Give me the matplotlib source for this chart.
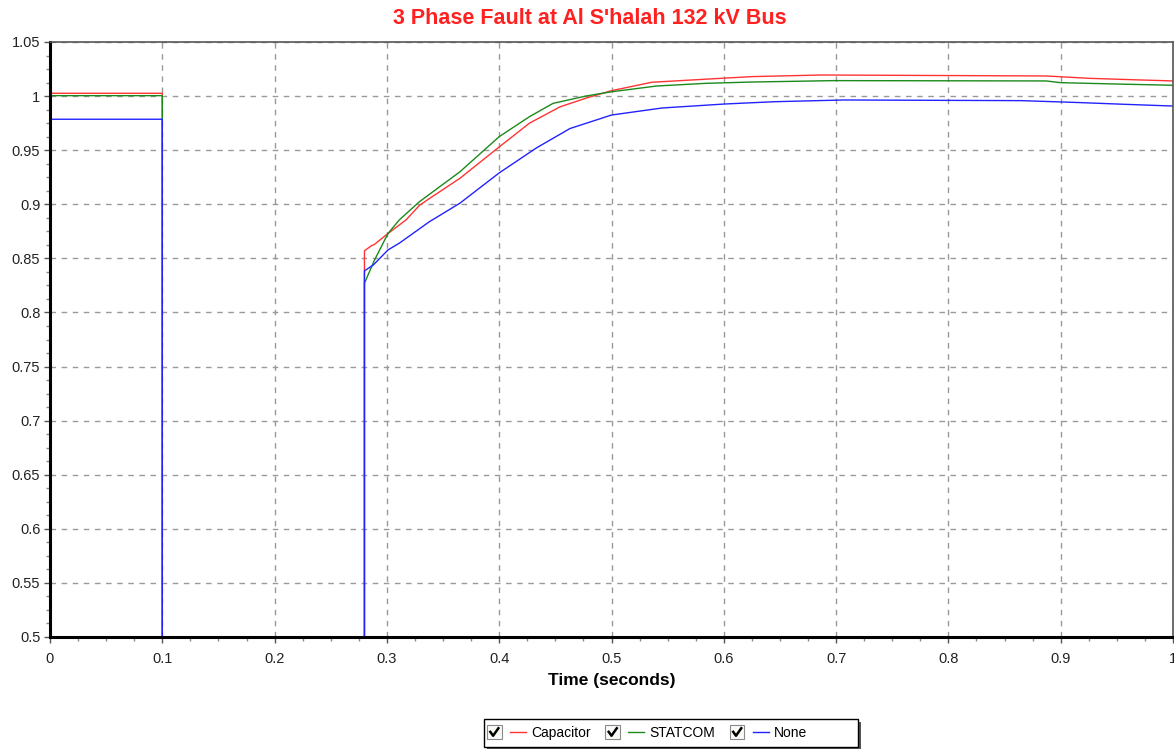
import numpy as np
import matplotlib
matplotlib.use("Agg")
import matplotlib.pyplot as plt
from matplotlib.patches import Rectangle
from matplotlib.lines import Line2D
from matplotlib.legend_handler import HandlerBase
from matplotlib.ticker import MultipleLocator

plt.rcParams['font.family'] = ['Liberation Sans', 'DejaVu Sans']

# --- data (p.u. voltage vs time) ---
# during the fault (0.1 s - 0.28 s) the voltage is off the bottom of the chart
t_cap = [0, 0.1, 0.1, 0.28, 0.28, 0.286, 0.289, 0.301, 0.317, 0.329, 0.336, 0.365,
         0.4, 0.427, 0.454, 0.477, 0.5, 0.536, 0.597, 0.625, 0.687, 0.887, 0.926,
         0.968, 1.0]
v_cap = [1.0026, 1.0026, 0.2, 0.2, 0.857, 0.8615, 0.863, 0.873, 0.8855, 0.899, 0.904,
         0.924, 0.953, 0.975, 0.990, 0.998, 1.005, 1.0128, 1.0164, 1.018, 1.0195,
         1.0186, 1.0164, 1.015, 1.014]

t_stat = [0, 0.1, 0.1, 0.28, 0.28, 0.289, 0.301, 0.311, 0.329, 0.365, 0.4, 0.427,
          0.448, 0.477, 0.5, 0.540, 0.584, 0.625, 0.698, 0.887, 0.90, 0.948, 1.0]
v_stat = [1.0004, 1.0004, 0.2, 0.2, 0.827, 0.8485, 0.873, 0.8855, 0.9024, 0.930,
          0.9625, 0.981, 0.9933, 1.0, 1.004, 1.0093, 1.0118, 1.013, 1.0143, 1.014,
          1.0124, 1.0112, 1.010]

t_none = [0, 0.1, 0.1, 0.28, 0.28, 0.288, 0.301, 0.311, 0.338, 0.365, 0.4, 0.433,
          0.463, 0.5, 0.545, 0.601, 0.645, 0.707, 0.865, 0.917, 0.957, 1.0]
v_none = [0.9786, 0.9786, 0.2, 0.2, 0.8384, 0.844, 0.8578, 0.864, 0.884, 0.901,
          0.929, 0.952, 0.970, 0.9825, 0.989, 0.9927, 0.9948, 0.9964, 0.9958, 0.994,
          0.9924, 0.9908]

labels = ["Capacitor", "STATCOM", "None"]
colors = ["#ff3333", "#1a8a1a", "#2222ff"]

xticks = [0.1 * i for i in range(11)]
xticklabels = ["0", "0.1", "0.2", "0.3", "0.4", "0.5", "0.6", "0.7", "0.8", "0.9", "1"]
yticks = [0.5 + 0.05 * i for i in range(12)]
yticklabels = ["0.5", "0.55", "0.6", "0.65", "0.7", "0.75", "0.8", "0.85", "0.9",
               "0.95", "1", "1.05"]


class CheckHandler(HandlerBase):
    # checkbox followed by a short line, like the original legend
    def create_artists(self, legend, orig_handle, xdescent, ydescent, width, height,
                       fontsize, trans):
        cy = height / 2 - ydescent
        s = 10.5
        box = Rectangle((-xdescent, cy - s / 2), s, s, facecolor="#fbfbf6",
                        edgecolor="#8a8a8a", lw=0.8, transform=trans)
        check = Line2D([-xdescent + 2.4, -xdescent + 4.4, -xdescent + 8.2],
                       [cy + 0.2, cy - 2.6, cy + 2.8], color="black", lw=1.8,
                       transform=trans)
        line = Line2D([-xdescent + 16.5, -xdescent + 28], [cy, cy],
                      color=orig_handle.get_color(), lw=1.0, transform=trans)
        return [box, check, line]


fig = plt.figure(figsize=(11.74, 7.49), dpi=100)
ax = fig.add_axes([50 / 1174, 112 / 749, 1123 / 1174, 595 / 749])

handles = []
for t, v, c, lab in zip([t_cap, t_stat, t_none], [v_cap, v_stat, v_none], colors, labels):
    h, = ax.plot(t, v, color=c, lw=1.0, label=lab)
    handles.append(h)

ax.set_xlim(0, 1)
ax.set_ylim(0.5, 1.05)
ax.set_xticks(xticks)
ax.set_xticklabels(xticklabels)
ax.set_yticks(yticks)
ax.set_yticklabels(yticklabels)
ax.xaxis.set_minor_locator(MultipleLocator(0.025))
ax.yaxis.set_minor_locator(MultipleLocator(0.0125))
ax.tick_params(which="major", direction="out", length=4, width=1, labelsize=10.5,
               color="#555555", pad=3, labelcolor="#222222")
ax.tick_params(which="minor", direction="out", length=3, width=1, color="#888888")
ax.tick_params(axis="x", pad=7)
ax.grid(True, which="major", linestyle=(0, (4, 4)), color="#999999", lw=1)

for side in ["left", "bottom"]:
    ax.spines[side].set_linewidth(2.2)
    ax.spines[side].set_color("black")
for side in ["top", "right"]:
    ax.spines[side].set_linewidth(1.2)
    ax.spines[side].set_color("#555555")

fig.text(590 / 1174, 1 - 18 / 749, "3 Phase Fault at Al S'halah 132 kV Bus",
         color="#ff2020", fontsize=15.5, fontweight="bold", ha="center", va="center")
ax.set_xlabel("Time (seconds)", fontsize=12.5, fontweight="bold", labelpad=5)

# legend frame with drop shadow, wider than its entries as in the original
px_w, px_h = 1 / 1174, 1 / 749
fig.patches.append(Rectangle((487 * px_w, -1 * px_h), 374 * px_w, 28 * px_h,
                             transform=fig.transFigure, facecolor="#555555",
                             edgecolor="none", zorder=1))
fig.patches.append(Rectangle((484 * px_w, 2 * px_h), 374 * px_w, 28 * px_h,
                             transform=fig.transFigure, facecolor="white",
                             edgecolor="black", lw=1.0, zorder=2))

leg = fig.legend(handles, labels, loc="center left",
                 bbox_to_anchor=(487 / 1174, 1 - 733 / 749),
                 ncol=3, fontsize=10, handlelength=2.88, handletextpad=0.3,
                 columnspacing=1.05, frameon=False, borderpad=0, borderaxespad=0,
                 handler_map={Line2D: CheckHandler()})
leg.set_zorder(5)

fig.savefig("out.png", dpi=100)
